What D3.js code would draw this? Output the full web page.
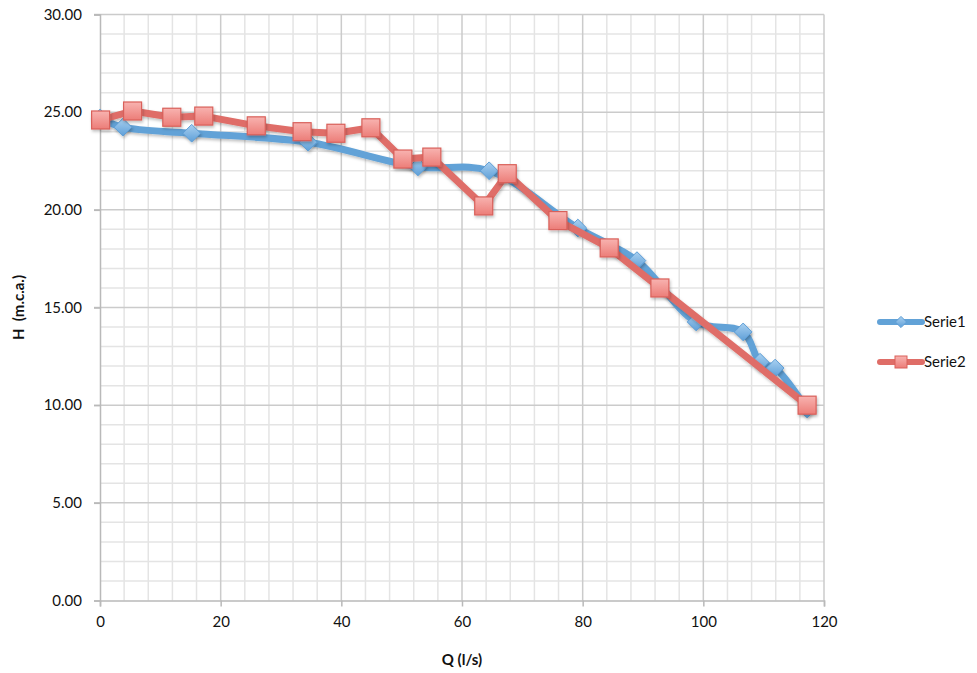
<!DOCTYPE html>
<html>
<head>
<meta charset="utf-8">
<script src="https://cdn.jsdelivr.net/npm/d3@7"></script>
<style>
	body { margin: 0; background: #fff; }
	text { font-family: Lato, "Open Sans", sans-serif; fill: #111; }
</style>
</head>
<body>
<script>
// Serie1: smoothed blue line with diamonds
const q1 = [0, 3.8, 15.2, 34.5, 52.7, 64.5, 79.2, 89.0, 98.8, 106.6, 109.4, 111.9, 117.2];
const h1 = [24.7, 24.23, 23.92, 23.46, 22.2, 22.0, 19.07, 17.4, 14.26, 13.75, 12.2, 11.9, 9.8];
// Serie2: straight red line with squares
const q2 = [0.1, 5.4, 11.9, 17.2, 25.9, 33.5, 39.1, 44.9, 50.2, 55.0, 63.6, 67.5, 75.9, 84.4, 92.8, 117.2];
const h2 = [24.6, 25.06, 24.74, 24.8, 24.3, 24.0, 23.92, 24.2, 22.6, 22.7, 20.2, 21.85, 19.45, 18.05, 16.0, 10.0];
const xTicks = [0, 20, 40, 60, 80, 100, 120];
const yTicks = [0, 5, 10, 15, 20, 25, 30];
const seriesNames = ['Serie1', 'Serie2'];

let width = 977, height = 673;
let svg = d3.select('body').append('svg')
	.attr('width', width)
	.attr('height', height);

let x = d3.scaleLinear().domain([0, 120]).range([100, 824]);
let y = d3.scaleLinear().domain([0, 30]).range([600.5, 14.5]);

let defs = svg.append('defs');
let sh = defs.append('filter').attr('id', 'shadow')
	.attr('x', '-50%').attr('y', '-50%').attr('width', '200%').attr('height', '200%');
sh.append('feDropShadow').attr('dx', 1).attr('dy', 2).attr('stdDeviation', 1.5)
	.attr('flood-color', '#000').attr('flood-opacity', 0.25);

let gBlue = defs.append('linearGradient').attr('id', 'gBlue').attr('x1', 0).attr('y1', 0).attr('x2', 0).attr('y2', 1);
gBlue.append('stop').attr('offset', 0).attr('stop-color', '#a9d0f0');
gBlue.append('stop').attr('offset', 1).attr('stop-color', '#5e9fd8');
let gRed = defs.append('linearGradient').attr('id', 'gRed').attr('x1', 0).attr('y1', 0).attr('x2', 0).attr('y2', 1);
gRed.append('stop').attr('offset', 0).attr('stop-color', '#f8b3b0');
gRed.append('stop').attr('offset', 1).attr('stop-color', '#ec7d78');

// minor grid
let grid = svg.append('g');
grid.selectAll('.vminor')
	.data(d3.range(0, 121, 4).filter(v => v % 20 !== 0))
	.enter().append('line')
	.attr('x1', d => x(d)).attr('x2', d => x(d))
	.attr('y1', y(30)).attr('y2', y(0))
	.style('stroke', '#e4e4e4').style('stroke-width', 1.5);
grid.selectAll('.hminor')
	.data(d3.range(0, 31, 1).filter(v => v % 5 !== 0))
	.enter().append('line')
	.attr('y1', d => y(d)).attr('y2', d => y(d))
	.attr('x1', x(0)).attr('x2', x(120))
	.style('stroke', '#e4e4e4').style('stroke-width', 1.5);
// major grid
grid.selectAll('.vmajor')
	.data(xTicks.slice(1))
	.enter().append('line')
	.attr('x1', d => x(d)).attr('x2', d => x(d))
	.attr('y1', y(30)).attr('y2', y(0))
	.style('stroke', '#cbcbcb').style('stroke-width', 1.5);
grid.selectAll('.hmajor')
	.data(yTicks.slice(1))
	.enter().append('line')
	.attr('y1', d => y(d)).attr('y2', d => y(d))
	.attr('x1', x(0) - 6).attr('x2', x(120))
	.style('stroke', '#cbcbcb').style('stroke-width', 1.5);

// axes
let xAxis = svg.append('g')
	.attr('transform', `translate(0,${y(0)})`)
	.call(d3.axisBottom(x).tickValues(xTicks).tickFormat(d3.format('d')).tickSize(6).tickPadding(10));
let yAxis = svg.append('g')
	.attr('transform', `translate(${x(0)},0)`)
	.call(d3.axisLeft(y).tickValues(yTicks).tickFormat(d3.format('.2f')).tickSize(6).tickPadding(12));
[xAxis, yAxis].forEach(a => {
	a.select('.domain').style('stroke', '#b9b9b9').style('stroke-width', 1.5);
	a.selectAll('.tick line').style('stroke', '#b9b9b9').style('stroke-width', 1.5);
	a.selectAll('.tick text').style('font-size', '15px').style('font-family', 'Lato, sans-serif').style('fill', '#111');
});

svg.append('text')
	.attr('x', x(60)).attr('y', 665)
	.attr('text-anchor', 'middle')
	.style('font-size', '15px').style('font-weight', 'bold')
	.text('Q (l/s)');
svg.append('text')
	.attr('transform', `translate(24,${y(15)}) rotate(-90)`)
	.attr('text-anchor', 'middle')
	.style('font-size', '15px').style('font-weight', 'bold')
	.attr('xml:space', 'preserve')
	.text('H  (m.c.a.)');

let s1 = q1.map((q, i) => ({q: q, h: h1[i]}));
let s2 = q2.map((q, i) => ({q: q, h: h2[i]}));

let blueLine = d3.line().x(d => x(d.q)).y(d => y(d.h)).curve(d3.curveCatmullRom.alpha(0.5));
let redLine = d3.line().x(d => x(d.q)).y(d => y(d.h));

svg.append('path')
	.datum(s1)
	.attr('d', blueLine)
	.attr('filter', 'url(#shadow)')
	.style('fill', 'none').style('stroke', '#62a2d7').style('stroke-width', 7)
	.style('stroke-linejoin', 'round').style('stroke-linecap', 'round');

let diamond = d3.symbol().type(d3.symbolDiamond2).size(200);
svg.selectAll('.dia')
	.data(s1)
	.enter().append('path')
	.attr('d', diamond)
	.attr('transform', d => `translate(${x(d.q)},${y(d.h)})`)
	.attr('filter', 'url(#shadow)')
	.style('fill', 'url(#gBlue)').style('stroke', '#5d9dd5').style('stroke-width', 1);

svg.append('path')
	.datum(s2)
	.attr('d', redLine)
	.attr('filter', 'url(#shadow)')
	.style('fill', 'none').style('stroke', '#df6d67').style('stroke-width', 7)
	.style('stroke-linejoin', 'round').style('stroke-linecap', 'round');

svg.selectAll('.sq')
	.data(s2)
	.enter().append('rect')
	.attr('x', d => x(d.q) - 9).attr('y', d => y(d.h) - 9)
	.attr('width', 18).attr('height', 18)
	.attr('filter', 'url(#shadow)')
	.style('fill', 'url(#gRed)').style('stroke', '#d9605a').style('stroke-width', 1.2);

// legend
let legend = svg.append('g');
let items = legend.selectAll('g')
	.data(seriesNames)
	.enter().append('g')
	.attr('transform', (d, i) => `translate(880,${322 + i * 40})`);
items.append('line')
	.attr('x1', 0).attr('x2', 42).attr('y1', 0).attr('y2', 0)
	.style('stroke', (d, i) => i ? '#df6d67' : '#62a2d7')
	.style('stroke-width', 6).style('stroke-linecap', 'round');
items.filter((d, i) => i === 0).append('path')
	.attr('d', d3.symbol().type(d3.symbolDiamond2).size(80))
	.attr('transform', 'translate(21,0)')
	.style('fill', 'url(#gBlue)').style('stroke', '#5d9dd5');
items.filter((d, i) => i === 1).append('rect')
	.attr('x', 15).attr('y', -6).attr('width', 12).attr('height', 12)
	.style('fill', 'url(#gRed)').style('stroke', '#d9605a');
items.append('text')
	.attr('x', 44).attr('y', 5)
	.style('font-size', '15px')
	.text(d => d);
</script>
</body>
</html>
